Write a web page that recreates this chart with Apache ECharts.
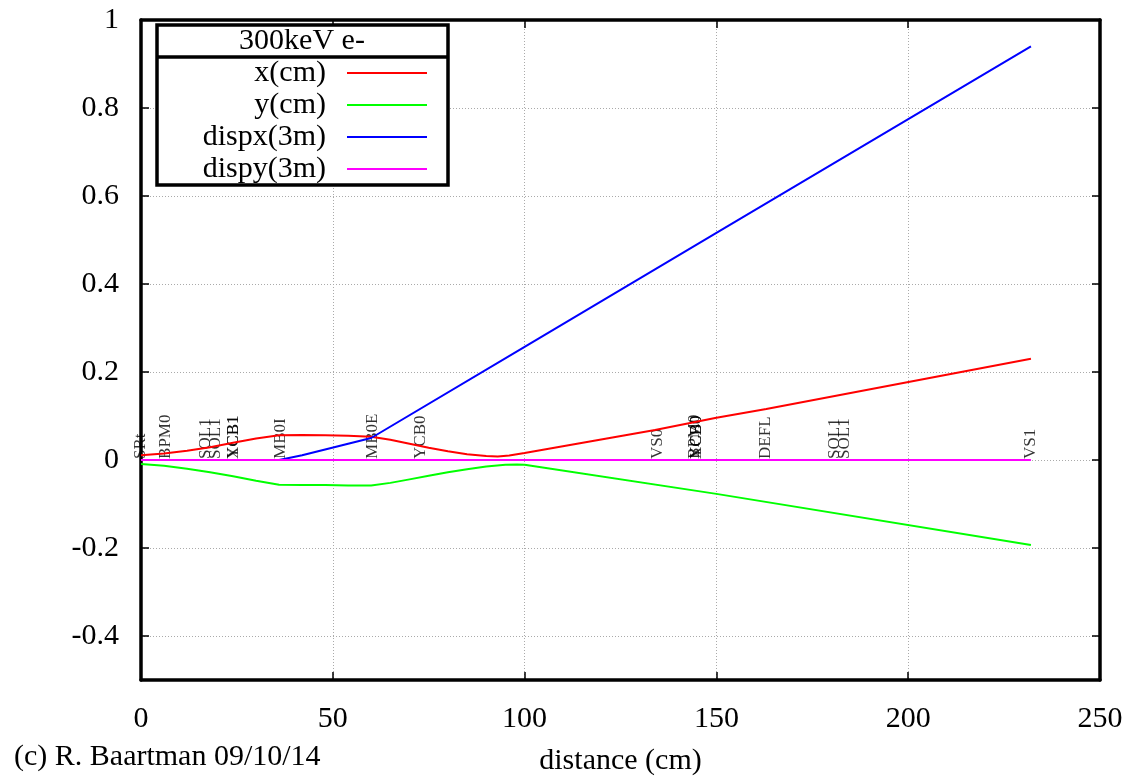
<!DOCTYPE html>
<html>
<head>
<meta charset="utf-8">
<script src="https://cdn.jsdelivr.net/npm/echarts@6/dist/echarts.min.js"></script>
<style>html,body{margin:0;padding:0;background:#fff}#c{width:1131px;height:776px}</style>
</head>
<body>
<div id="c"></div>
<script>
// ---- data ----
const xTicks = [0, 50, 100, 150, 200, 250];
const yTicks = [-0.4, -0.2, 0, 0.2, 0.4, 0.6, 0.8, 1];

const xcmDist = [0, 6, 12, 18, 24, 30, 36, 42, 48, 54, 60, 65, 70, 75, 80, 85, 90, 93, 96, 100, 134, 150, 163, 232];
const xcmVal  = [0.011, 0.015, 0.021, 0.029, 0.039, 0.049, 0.056, 0.057, 0.056, 0.055, 0.053, 0.046, 0.037, 0.028, 0.020, 0.013, 0.009, 0.008, 0.010, 0.016, 0.068, 0.096, 0.116, 0.230];

const ycmDist = [0, 6, 12, 18, 24, 30, 36, 42, 48, 54, 60, 65, 70, 75, 80, 85, 90, 95, 98, 100, 150, 232];
const ycmVal  = [-0.009, -0.013, -0.020, -0.028, -0.037, -0.047, -0.056, -0.057, -0.057, -0.058, -0.058, -0.052, -0.044, -0.036, -0.028, -0.021, -0.015, -0.011, -0.010, -0.011, -0.077, -0.193];

const dispxDist = [0, 36, 42, 48, 54, 60, 100, 150, 232];
const dispxVal  = [0, 0, 0.011, 0.024, 0.037, 0.050, 0.257, 0.516, 0.940];

const dispyDist = [0, 232];
const dispyVal  = [0, 0];

const elemNames = ['SRt', 'BPM0', 'SOL1', 'SOL1', 'XCB1', 'YCB1', 'MB0I', 'MB0E', 'YCB0', 'VS0', 'BPM0', 'XCB0', 'YCB0', 'DEFL', 'SOL1', 'SOL1', 'VS1'];
const elemPos   = [0, 6.3, 16.7, 19.3, 24, 24.2, 36.3, 60.3, 72.8, 134.7, 144.2, 144.8, 144.8, 162.9, 180.7, 183.3, 232];

const seriesNames = ['x(cm)', 'y(cm)', 'dispx(3m)', 'dispy(3m)'];
const legendTitle = '300keV e-';
const xAxisTitle = 'distance (cm)';
const credit = '(c) R. Baartman 09/10/14';
// ---------------------------------------

const FONT = 'Liberation Serif';
const zip = (a, b) => a.map((v, i) => [v, b[i]]);

const chart = echarts.init(document.getElementById('c'), null, {renderer: 'canvas'});

const axisLineStyle = {show: true, onZero: false, lineStyle: {color: '#000', width: 3.5}};
const tickStyle = {show: true, inside: true, length: 8, lineStyle: {color: '#000', width: 1.5}};
const gridLine = {show: true, lineStyle: {color: '#aaa', type: [1, 2], width: 1}};

const lineSeries = (name, data, color) => ({
  name, type: 'line', data, symbol: 'none', showSymbol: false,
  lineStyle: {color, width: 2}, itemStyle: {color}, z: 3, animation: false
});

chart.setOption({
  animation: false,
  backgroundColor: '#fff',
  textStyle: {fontFamily: FONT},
  grid: {left: 141, right: 31, top: 20, bottom: 96, containLabel: false, outerBoundsMode: 'none'},
  xAxis: [{
    type: 'value', min: xTicks[0], max: xTicks[xTicks.length - 1], interval: 50,
    position: 'bottom',
    name: xAxisTitle, nameLocation: 'middle', nameGap: 66,
    nameTextStyle: {fontFamily: FONT, fontSize: 30, color: '#000'},
    axisLine: axisLineStyle, axisTick: tickStyle, splitLine: gridLine,
    axisLabel: {fontFamily: FONT, fontSize: 30, color: '#000', margin: 24}
  }, {
    type: 'value', min: xTicks[0], max: xTicks[xTicks.length - 1], interval: 50,
    position: 'top',
    axisLine: axisLineStyle, axisTick: tickStyle, splitLine: {show: false},
    axisLabel: {show: false}
  }],
  yAxis: [{
    type: 'value', min: -0.5, max: yTicks[yTicks.length - 1], splitNumber: 7,
    position: 'left',
    axisLine: axisLineStyle, axisTick: tickStyle, splitLine: gridLine,
    axisLabel: {fontFamily: FONT, fontSize: 30, color: '#000', margin: 22, showMinLabel: false,
      formatter: v => (yTicks.some(t => Math.abs(t - v) < 1e-9) ? String(+v.toFixed(1)) : '')}
  }, {
    type: 'value', min: -0.5, max: yTicks[yTicks.length - 1], splitNumber: 7,
    position: 'right',
    axisLine: axisLineStyle, axisTick: tickStyle, splitLine: {show: false},
    axisLabel: {show: false}
  }],
  legend: {
    data: seriesNames,
    orient: 'vertical',
    align: 'right',
    right: 703, top: 58,
    padding: 0,
    itemWidth: 80, itemHeight: 30, itemGap: 2,
    itemStyle: {opacity: 0},
    textStyle: {fontFamily: FONT, fontSize: 30, color: '#000', lineHeight: 30, padding: [0, 16, 0, 0]},
    z: 10
  },
  graphic: [
    {type: 'rect', z: 5, shape: {x: 157, y: 25, width: 291, height: 160},
     style: {fill: '#fff', stroke: '#000', lineWidth: 3.5}},
    {type: 'line', z: 6, shape: {x1: 157, y1: 57, x2: 448, y2: 57},
     style: {stroke: '#000', lineWidth: 3.5}},
    {type: 'text', z: 6, x: 302, y: 41,
     style: {text: legendTitle, font: '30px "Liberation Serif"', fill: '#000', textAlign: 'center', textVerticalAlign: 'middle'}},
    {type: 'text', z: 6, left: 14, top: 742,
     style: {text: credit, font: '30px "Liberation Serif"', fill: '#000'}}
  ],
  series: [
    lineSeries(seriesNames[0], zip(xcmDist, xcmVal), '#ff0000'),
    lineSeries(seriesNames[1], zip(ycmDist, ycmVal), '#00ff00'),
    lineSeries(seriesNames[2], zip(dispxDist, dispxVal), '#0000ff'),
    lineSeries(seriesNames[3], zip(dispyDist, dispyVal), '#ff00ff'),
    {
      name: 'elements', type: 'scatter', z: 2,
      symbol: 'circle', symbolSize: 0.1, itemStyle: {color: 'rgba(0,0,0,0)'},
      data: elemNames.map((n, i) => ({name: n, value: [elemPos[i], 0]})),
      label: {
        show: true, formatter: p => p.name, position: 'top', distance: 1,
        rotate: 90, align: 'left', verticalAlign: 'middle',
        fontFamily: FONT, fontSize: 17, color: '#000'
      },
      emphasis: {disabled: true}
    }
  ]
});
</script>
</body>
</html>
